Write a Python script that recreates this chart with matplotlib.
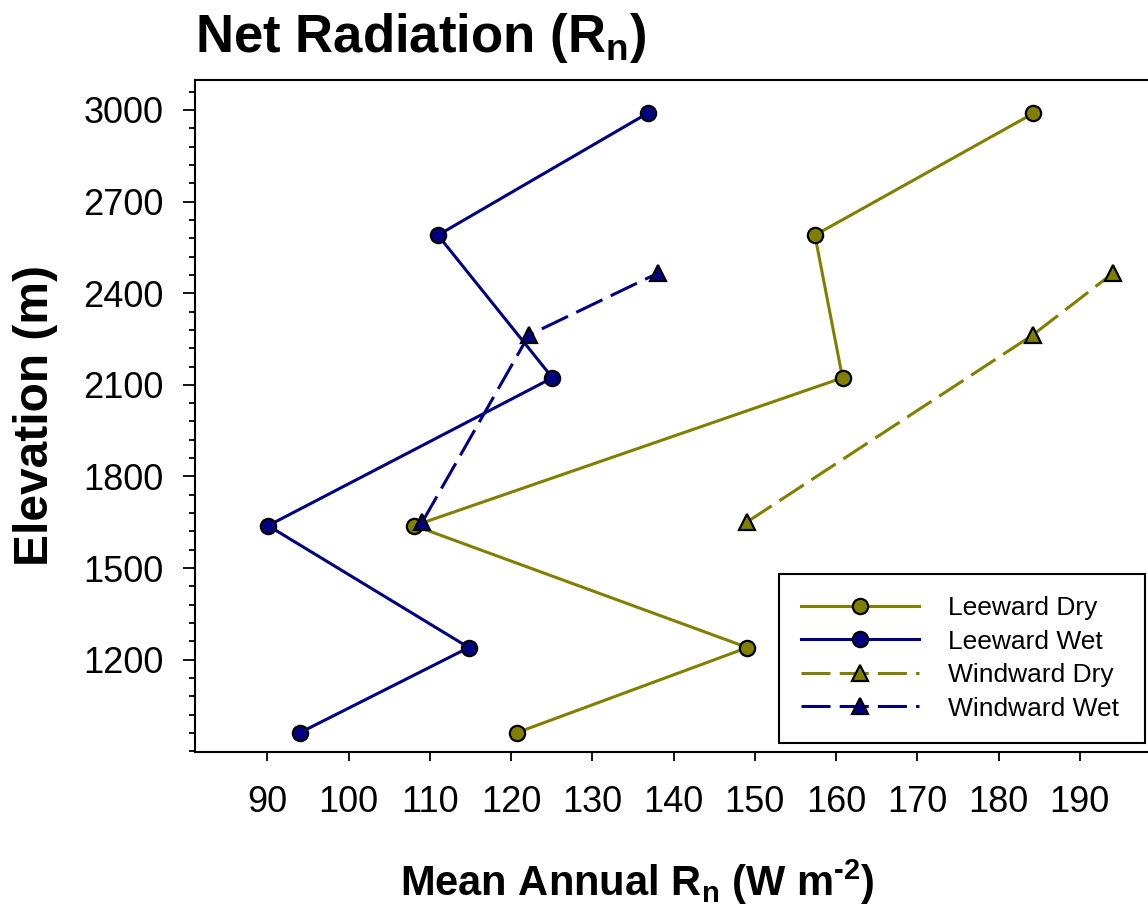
import matplotlib
matplotlib.use("Agg")
import matplotlib.pyplot as plt
from matplotlib.ticker import MultipleLocator

plt.rcParams['font.family'] = ['Liberation Sans', 'DejaVu Sans']
plt.rcParams['mathtext.fontset'] = 'custom'
plt.rcParams['mathtext.rm'] = 'Liberation Sans:bold'
plt.rcParams['mathtext.bf'] = 'Liberation Sans:bold'
plt.rcParams['mathtext.it'] = 'Liberation Sans:bold'

# ---- data ----
leeward_elev = [961, 1240, 1639, 2123, 2590, 2989]
leeward_dry = [120.7, 149.1, 108.1, 160.8, 157.4, 184.3]
leeward_wet = [94.0, 114.8, 90.1, 125.1, 111.0, 136.8]
windward_elev = [1652, 2263, 2466]
windward_dry = [149.1, 184.2, 194.1]
windward_wet = [109.1, 122.2, 138.1]

xticks = [90, 100, 110, 120, 130, 140, 150, 160, 170, 180, 190]
yticks = [1200, 1500, 1800, 2100, 2400, 2700, 3000]

OLIVE = '#808000'
NAVY = '#000080'

W, H = 1148, 911
fig = plt.figure(figsize=(W / 100, H / 100), dpi=100)
left, right, top, bottom = 195, 1148, 80, 752
ax = fig.add_axes([left / W, 1 - bottom / H, (right - left) / W, (bottom - top) / H])

lw = 2.2
dash = (0, (9.5, 3.0))
ms_c, ms_t = 11, 12
ax.plot(leeward_dry, leeward_elev, color=OLIVE, lw=lw, marker='o', ms=ms_c,
        mfc=OLIVE, mec='black', mew=1.6, label='Leeward Dry')
ax.plot(leeward_wet, leeward_elev, color=NAVY, lw=lw, marker='o', ms=ms_c,
        mfc=NAVY, mec='black', mew=1.6, label='Leeward Wet')
ax.plot(windward_dry, windward_elev, color=OLIVE, lw=lw, ls=dash, marker='^', ms=ms_t,
        mfc=OLIVE, mec='black', mew=1.6, label='Windward Dry')
ax.plot(windward_wet, windward_elev, color=NAVY, lw=lw, ls=dash, marker='^', ms=ms_t,
        mfc=NAVY, mec='black', mew=1.6, label='Windward Wet')

ax.set_xlim(81.1, 198.4)
ax.set_ylim(898, 3098)
ax.set_xticks(xticks)
ax.set_yticks(yticks)
ax.yaxis.set_minor_locator(MultipleLocator(60))

for s in ['left', 'bottom', 'top']:
    ax.spines[s].set_linewidth(1.5)
ax.spines['right'].set_visible(False)

ax.tick_params(axis='x', which='major', direction='out', length=6.5, width=1.3,
               labelsize=26, pad=17)
ax.tick_params(axis='y', which='major', direction='out', length=8.6, width=1.3,
               labelsize=26, pad=14)
ax.tick_params(axis='y', which='minor', direction='out', length=4.5, width=1.3)

leg_x0, leg_x1, leg_y0, leg_y1 = 779, 1145, 574, 742
leg = ax.legend(loc='upper left',
                bbox_to_anchor=(leg_x0 / W, 1 - leg_y1 / H,
                                (leg_x1 - leg_x0) / W, (leg_y1 - leg_y0) / H),
                bbox_transform=fig.transFigure, borderaxespad=0, mode='expand',
                fontsize=19, frameon=True, fancybox=False, shadow=False,
                handlelength=4.47, handletextpad=1.1, borderpad=0.84,
                labelspacing=0.36, markerscale=1.0)
leg.get_frame().set_edgecolor('black')
leg.get_frame().set_linewidth(1.5)
leg.get_frame().set_alpha(1)

fig.text(195 / W, 1 - 52 / H, r'Net Radiation (R$_\mathbf{n}$)', fontsize=38,
         fontweight='bold', ha='left', va='baseline')
fig.text(637 / W, 1 - 896 / H, r'Mean Annual R$_\mathbf{n}$ (W m$^{\text{-}\mathbf{2}}$)',
         fontsize=30, fontweight='bold', ha='center', va='baseline')
fig.text(36 / W, 1 - 415 / H, 'Elevation (m)', fontsize=34.5, fontweight='bold',
         rotation=90, ha='center', va='center')

fig.savefig('out.png', dpi=100)
